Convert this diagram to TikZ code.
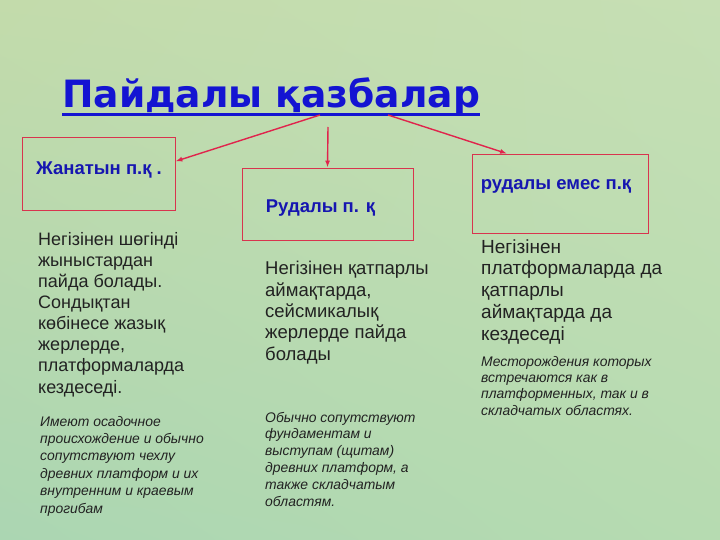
\documentclass[tikz,border=0pt]{standalone}
\usepackage{fontspec}
\setmainfont{Liberation Sans}
\newfontfamily\titlefont{DejaVu Sans}
\usetikzlibrary{arrows.meta,shadings}
\definecolor{bgtl}{HTML}{C3DBAB}
\definecolor{bgtr}{HTML}{C6DFB4}
\definecolor{bgbl}{HTML}{ABD6B2}
\definecolor{bgbr}{HTML}{B6DBB1}
\definecolor{titleblue}{HTML}{1414D2}
\definecolor{labelblue}{HTML}{1616B0}
\definecolor{boxred}{HTML}{D8344E}
\definecolor{arrowred}{HTML}{E0244C}
\definecolor{bodytext}{HTML}{222222}
\begin{document}
\begin{tikzpicture}[x=1pt,y=-1pt,
    box/.style={rectangle, draw=boxred, line width=0.8pt, inner sep=0pt},
    boxlabel/.style={anchor=base, inner sep=0pt, text=labelblue, font=\fontsize{18.5}{21}\selectfont\bfseries},
    arrow/.style={-{Latex[length=7pt,width=5pt]}, draw=arrowred, line width=1.4pt},
    body/.style={anchor=base west, align=left, inner sep=0pt, text=bodytext, font=\fontsize{18.5}{21.3}\selectfont},
    note/.style={anchor=base west, align=left, inner sep=0pt, text=bodytext, font=\fontsize{13.9}{16.8}\selectfont\itshape}
  ]
  % background
  \shade[upper left=bgtl, upper right=bgtr, lower left=bgbl, lower right=bgbr] (0,0) rectangle (720,540);

  % title
  \node[anchor=base west, inner sep=0pt, text=titleblue, font=\titlefont\bfseries\fontsize{37.6}{40}\selectfont] (title) at (62,108) {Пайдалы қазбалар};
  \draw[titleblue, line width=3pt] ([yshift=-7pt]title.base west) -- ([yshift=-7pt]title.base east);

  % boxes
  \node[box, minimum width=153pt, minimum height=73pt] (zhanatyn) at (98.5,173.5) {};
  \node[box, minimum width=171pt, minimum height=72pt] (rudaly) at (327.5,204) {};
  \node[box, minimum width=176pt, minimum height=79pt] (rudalyemes) at (560,193.5) {};
  \node[boxlabel] (zhanatynlbl) at (99,175) {Жанатын п.қ .};
  \node[boxlabel] (rudalylbl) at (320.5,213) {Рудалы  п. қ};
  \node[boxlabel] (rudalyemeslbl) at (556,190) {рудалы емес п.қ};

  \coordinate (from1) at (320,115);
  \coordinate (from2) at (328,127);
  \coordinate (from3) at (388,115);
  \draw[arrow] (from1) -- (zhanatyn.9);
  \draw[arrow] (from2) -- (rudaly.north);
  \draw[arrow] (from3) -- (rudalyemes.143);

  % texts (placed at the baseline of their last line)
  \node[body, font=\fontsize{18}{21.1}\selectfont] (leftkz) at (38,393) {Негізінен шөгінді\\жыныстардан\\пайда болады.\\Сондықтан\\көбінесе жазық\\жерлерде,\\платформаларда\\кездеседі.};
  \node[note, font=\fontsize{13.9}{17.4}\selectfont\itshape] (leftru) at (40,513) {Имеют осадочное\\происхождение и обычно\\сопутствуют чехлу\\древних платформ и их\\внутренним и краевым\\прогибам};
  \node[body] (midkz) at (265,360) {Негізінен қатпарлы\\аймақтарда,\\сейсмикалық\\жерлерде пайда\\болады};
  \node[note] (midru) at (265,506) {Обычно сопутствуют\\фундаментам и\\выступам (щитам)\\древних платформ, а\\также складчатым\\областям.};
  \node[body, font=\fontsize{19}{21.7}\selectfont] (rightkz) at (481,340) {Негізінен\\платформаларда да\\қатпарлы\\аймақтарда да\\кездеседі};
  \node[note, font=\fontsize{13.9}{16.3}\selectfont\itshape] (rightru) at (481,415) {Месторождения которых\\встречаются как в\\платформенных, так и в\\складчатых областях.};
\end{tikzpicture}
\end{document}
